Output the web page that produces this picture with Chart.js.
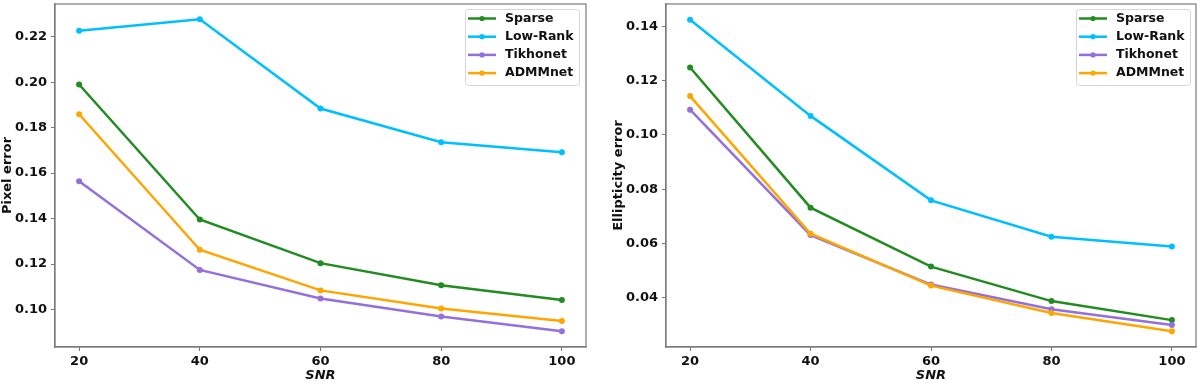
<!DOCTYPE html>
<html>
<head>
<meta charset="utf-8">
<script src="https://cdn.jsdelivr.net/npm/chart.js@4.4.0/dist/chart.umd.min.js"></script>
<style>
  html, body { margin: 0; padding: 0; background: #fff; }
  .wrap { position: absolute; top: 0; width: 600px; height: 385px; }
</style>
</head>
<body>
<div class="wrap" style="left:0"><canvas id="pixel"></canvas></div>
<div class="wrap" style="left:600px"><canvas id="ellip"></canvas></div>
<script>
// x values (SNR)
const snr = [20, 40, 60, 80, 100];
const seriesNames = ["Sparse", "Low-Rank", "Tikhonet", "ADMMnet"];
const seriesColors = ["#228B22", "#00BFFF", "#9370DB", "#FFA500"];

// pixel error
const pixelSparse = [0.199, 0.1396, 0.1204, 0.1107, 0.1042];
const pixelLowRank = [0.2226, 0.2277, 0.1884, 0.1736, 0.1692];
const pixelTikhonet = [0.1564, 0.1174, 0.1048, 0.0969, 0.0904];
const pixelADMMnet = [0.1859, 0.1263, 0.1084, 0.1004, 0.0949];
const pixelTicks = [0.10, 0.12, 0.14, 0.16, 0.18, 0.20, 0.22];

// ellipticity error
const ellipSparse = [0.1248, 0.0732, 0.0515, 0.0388, 0.0318];
const ellipLowRank = [0.1424, 0.107, 0.0759, 0.0625, 0.0589];
const ellipTikhonet = [0.1093, 0.0631, 0.0449, 0.0358, 0.030];
const ellipADMMnet = [0.1143, 0.0636, 0.0445, 0.0344, 0.0277];
const ellipTicks = [0.04, 0.06, 0.08, 0.10, 0.12, 0.14];

const xTicks = [20, 40, 60, 80, 100];

Chart.defaults.font.family = "'DejaVu Sans', sans-serif";
Chart.defaults.font.weight = "bold";
Chart.defaults.color = "#111";

const SPINE = "#7a7a7a";

// box around the plot area (matplotlib spines)
const framePlugin = {
  id: "frame",
  afterDatasetsDraw(chart) {
    const a = chart.chartArea;
    const ctx = chart.ctx;
    ctx.save();
    ctx.strokeStyle = SPINE;
    ctx.lineWidth = 1.2;
    ctx.strokeRect(a.left, a.top, a.right - a.left, a.bottom - a.top);
    ctx.restore();
  }
};

// legend box in upper right, like matplotlib
const boxLegend = {
  id: "boxLegend",
  afterDraw(chart, args, opts) {
    const ctx = chart.ctx;
    const x = opts.x, y = opts.y, w = opts.w, h = opts.h;
    ctx.save();
    ctx.fillStyle = "rgba(255,255,255,0.85)";
    ctx.strokeStyle = "#d6d6d6";
    ctx.lineWidth = 1;
    ctx.beginPath();
    ctx.roundRect(x + 0.5, y + 0.5, w, h, 3);
    ctx.fill();
    ctx.stroke();
    ctx.font = "bold 12.5px 'DejaVu Sans'";
    ctx.textBaseline = "middle";
    chart.data.datasets.forEach((ds, i) => {
      const cy = y + 9.5 + i * 18.2;
      ctx.strokeStyle = ds.borderColor;
      ctx.lineWidth = 2.5;
      ctx.beginPath();
      ctx.moveTo(x + 3, cy);
      ctx.lineTo(x + 31, cy);
      ctx.stroke();
      ctx.fillStyle = ds.borderColor;
      ctx.beginPath();
      ctx.arc(x + 17, cy, 2.6, 0, Math.PI * 2);
      ctx.fill();
      ctx.fillStyle = "#111";
      ctx.fillText(ds.label, x + 40, cy);
    });
    ctx.restore();
  }
};

function makeChart(id, seriesList, yTicks, yMin, yMax, yTitle, padLeft, padRight, legendX) {
  const datasets = seriesList.map((vals, i) => ({
    label: seriesNames[i],
    data: snr.map((s, k) => ({ x: s, y: vals[k] })),
    borderColor: seriesColors[i],
    backgroundColor: seriesColors[i],
    borderWidth: 2.5,
    pointRadius: 3,
    pointBorderWidth: 0,
    pointBackgroundColor: seriesColors[i],
    tension: 0,
    order: seriesList.length - i
  }));

  return new Chart(document.getElementById(id), {
    type: "line",
    data: { datasets: datasets },
    options: {
      responsive: true,
      maintainAspectRatio: false,
      animation: false,
      layout: { padding: { top: 2, left: padLeft, right: padRight, bottom: 0 } },
      plugins: {
        legend: { display: false },
        tooltip: { enabled: false },
        boxLegend: { x: legendX, y: 9, w: 114, h: 76 }
      },
      scales: {
        x: {
          type: "linear",
          min: 16,
          max: 104,
          afterBuildTicks: (scale) => { scale.ticks = xTicks.map(v => ({ value: v })); },
          afterFit: (scale) => {
            scale.height = 38;
            scale.paddingLeft = 0;
            scale.paddingRight = 0;
          },
          grid: { drawOnChartArea: false, drawTicks: true, tickLength: 4, color: SPINE },
          border: { color: SPINE, width: 1.2 },
          ticks: { font: { size: 13, weight: "bold" }, padding: 3, color: "#111", maxRotation: 0 },
          title: {
            display: true,
            text: "SNR",
            font: { size: 13, weight: "bold", style: "italic" },
            color: "#111",
            padding: { top: 0, bottom: 2 }
          }
        },
        y: {
          type: "linear",
          min: yMin,
          max: yMax,
          afterBuildTicks: (scale) => { scale.ticks = yTicks.map(v => ({ value: v })); },
          afterFit: (scale) => {
            scale.width = 55;
            scale.paddingTop = 0;
            scale.paddingBottom = 0;
          },
          grid: { drawOnChartArea: false, drawTicks: true, tickLength: 4, color: SPINE },
          border: { color: SPINE, width: 1.2 },
          ticks: {
            font: { size: 13, weight: "bold" },
            padding: 4,
            color: "#111",
            callback: (v) => v.toFixed(2)
          },
          title: {
            display: true,
            text: yTitle,
            font: { size: 13, weight: "bold" },
            color: "#111",
            padding: 0
          }
        }
      }
    },
    plugins: [framePlugin, boxLegend]
  });
}

makeChart("pixel",
  [pixelSparse, pixelLowRank, pixelTikhonet, pixelADMMnet],
  pixelTicks, 0.0835, 0.2344, "Pixel error", 0, 14, 465);

makeChart("ellip",
  [ellipSparse, ellipLowRank, ellipTikhonet, ellipADMMnet],
  ellipTicks, 0.0219, 0.1482, "Ellipticity error", 11, 3, 476);
</script>
</body>
</html>
